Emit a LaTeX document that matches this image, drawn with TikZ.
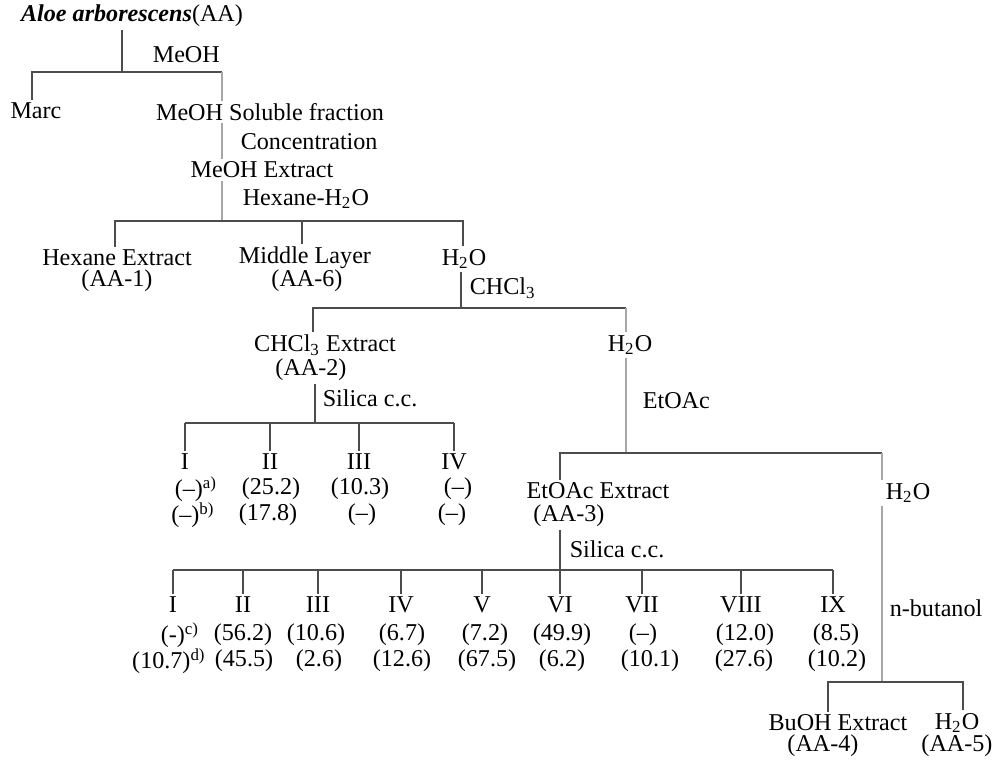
\documentclass[tikz,border=0pt]{standalone}
\usepackage{fontspec}
\setmainfont{Liberation Serif}
\usepackage{tikz}

\begin{document}
\begin{tikzpicture}[x=0.015cm,y=-0.015cm,
  txt/.style={font=\fontsize{10.3}{10.5}\selectfont,inner sep=1pt},
  link/.style={color=black!70,line width=0.5pt},
  faint/.style={color=black!35,line width=0.45pt}]
\useasboundingbox (0,0) rectangle (1004,760);
%% MeOH extraction
\node[txt] (aa) at (132,16) {\textbf{\textit{Aloe arborescens}}(AA)};
\node[txt,anchor=west] (meoh) at (150,55) {MeOH};
\node[txt] (marc) at (36,111) {Marc};
\node[txt] (sol) at (270,112) {MeOH Soluble fraction};
\node[txt,anchor=west] (conc) at (238,142) {Concentration};
\node[txt] (ext) at (262,170) {MeOH Extract};
\node[txt,anchor=west] (hexwat) at (240,199) {Hexane-H\textsubscript{2}O};
\coordinate (b1l) at (32,72);
\coordinate (b1m) at (122,72);
\coordinate (b1r) at (222,72);
\draw[link] (aa.south -| b1m) -- (b1m);
\draw[link] (marc.north -| b1l) -- (b1l) -- (b1r);
\draw[faint] (b1r) -- (sol.north -| b1r);
\draw[faint] (sol.south -| b1r) -- (ext.north -| b1r);
%% hexane - water
\node[txt] (hex) at (117,258) {Hexane Extract};
\node[txt] (hexid) at (117,281) {(AA-1)};
\node[txt] (mid) at (305,258) {Middle Layer};
\node[txt] (midid) at (307,281) {(AA-6)};
\node[txt] (h2oa) at (464,259) {H\textsubscript{2}O};
\coordinate (b2l) at (115,221);
\coordinate (b2m) at (302,221);
\coordinate (b2r) at (463,221);
\draw[faint] (ext.south -| b1r) -- (b1r |- b2l);
\draw[link] (hex.north -| b2l) -- (b2l) -- (b2r) -- (h2oa.north -| b2r);
\draw[link] (mid.north -| b2m) -- (b2m);
%% CHCl3
\node[txt,anchor=west] (chcl) at (467,288) {CHCl\textsubscript{3}};
\node[txt] (chex) at (325,345) {CHCl\textsubscript{3} Extract};
\node[txt] (chexid) at (311,370) {(AA-2)};
\node[txt] (h2ob) at (630,345) {H\textsubscript{2}O};
\coordinate (b3l) at (313,308);
\coordinate (b3m) at (461,308);
\coordinate (b3r) at (626,308);
\draw[link] (h2oa.south -| b3m) -- (b3m);
\draw[link] (chex.north -| b3l) -- (b3l) -- (b3r);
\draw[faint] (b3r) -- (h2ob.north -| b3r);
%% silica c.c. (AA-2)
\node[txt,anchor=west] (sil1) at (320,398) {Silica c.c.};
\coordinate (b4m) at (315,423);
\draw[link] (chexid.south -| b4m) -- (b4m);
\foreach \n/\x/\r in {1/185/I,2/270/II,3/359/III,4/454/IV}{
  \coordinate (da\n) at (\x,423);
  \node[txt] (fa\n) at (\x,462) {\r};
  \draw[link] (da\n) -- (fa\n.north -| da\n);
}
\draw[link] (da1) -- (da4);
\foreach \n/\x/\t in {1/196/{(--)\textsuperscript{a)}},2/271/(25.2),3/360/(10.3),4/458/(--)}
  \node[txt] (va\n) at (\x,489) {\t};
\foreach \n/\x/\t in {1/193/{(--)\textsuperscript{b)}},2/268/(17.8),3/362/(--),4/452/(--)}
  \node[txt] (wa\n) at (\x,515) {\t};
%% EtOAc
\node[txt,anchor=west] (etoac) at (640,401) {EtOAc};
\node[txt] (eac) at (598,491) {EtOAc Extract};
\node[txt] (eacid) at (569,516) {(AA-3)};
\node[txt] (h2oc) at (908,493) {H\textsubscript{2}O};
\coordinate (b5l) at (560,453);
\coordinate (b5m) at (626,453);
\coordinate (b5r) at (882,453);
\draw[faint] (h2ob.south -| b5m) -- (b5m);
\draw[link] (eac.north -| b5l) -- (b5l) -- (b5r);
\draw[faint] (b5r) -- (h2oc.north -| b5r);
%% silica c.c. (AA-3)
\node[txt,anchor=west] (sil2) at (567,549) {Silica c.c.};
\coordinate (b6m) at (560,570);
\draw[link] (eacid.south -| b6m) -- (b6m);
\foreach \n/\x/\r in {1/173/I,2/243/II,3/318/III,4/401/IV,5/482/V,6/560/VI,7/642/VII,8/741/VIII,9/833/IX}{
  \coordinate (db\n) at (\x,570);
  \node[txt] (fb\n) at (\x,605) {\r};
  \draw[link] (db\n) -- (fb\n.north -| db\n);
}
\draw[link] (db1) -- (db9);
\foreach \n/\x/\t in {1/180/{(-)\textsuperscript{c)}},2/243/(56.2),3/316/(10.6),4/402/(6.7),5/485/(7.2),6/562/(49.9),7/643/(--),8/745/(12.0),9/836/(8.5)}
  \node[txt] (vb\n) at (\x,635) {\t};
\foreach \n/\x/\t in {1/169/{(10.7)\textsuperscript{d)}},2/244/(45.5),3/319/(2.6),4/402/(12.6),5/487/(67.5),6/562/(6.2),7/650/(10.1),8/744/(27.6),9/837/(10.2)}
  \node[txt] (wb\n) at (\x,661) {\t};
%% n-butanol
\node[txt,anchor=west] (nbut) at (887,608) {n-butanol};
\node[txt] (buoh) at (838,723) {BuOH Extract};
\node[txt] (buohid) at (823,746) {(AA-4)};
\node[txt] (h2od) at (957,723) {H\textsubscript{2}O};
\node[txt] (h2odid) at (957,746) {(AA-5)};
\coordinate (b7l) at (828,682);
\coordinate (b7m) at (882,682);
\coordinate (b7r) at (963,682);
\draw[faint] (h2oc.south -| b7m) -- (b7m);
\draw[link] (buoh.north -| b7l) -- (b7l) -- (b7r) -- (h2od.north -| b7r);
\end{tikzpicture}
\end{document}
